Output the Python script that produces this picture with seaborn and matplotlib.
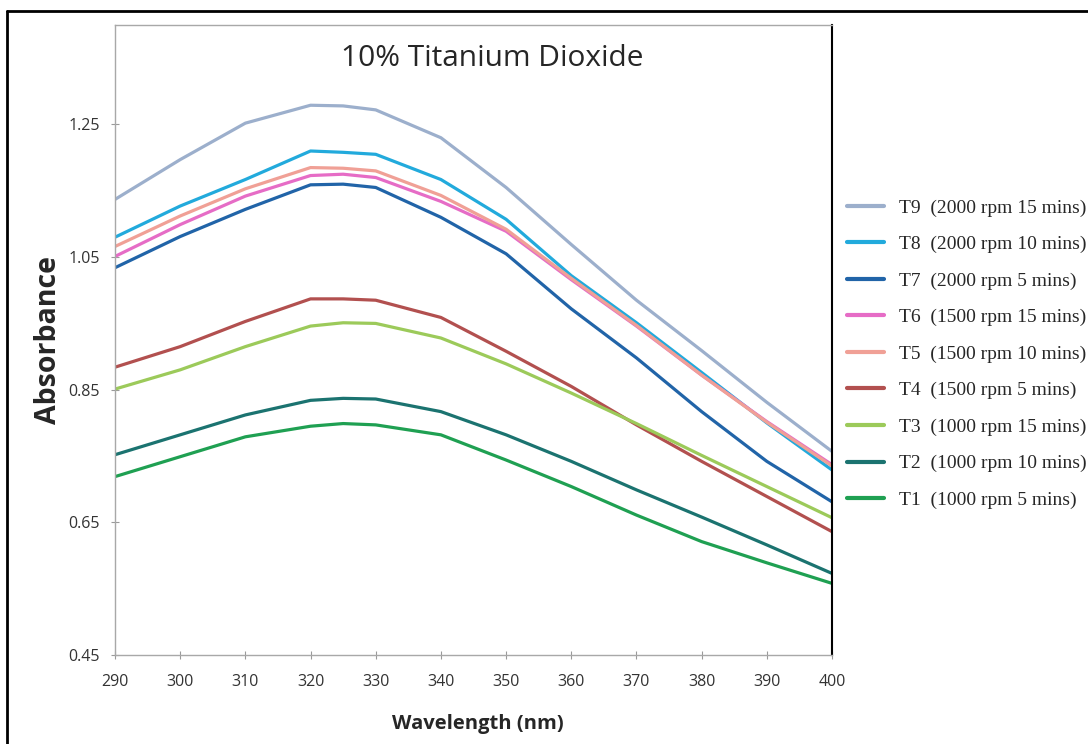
import numpy as np
import pandas as pd
import matplotlib
matplotlib.use("Agg")
import matplotlib.pyplot as plt
import seaborn as sns
from matplotlib.lines import Line2D

wavelength = [290, 300, 310, 320, 325, 330, 340, 350, 360, 370, 380, 390, 400]

T9 = [1.137, 1.197, 1.252, 1.279, 1.278, 1.272, 1.230, 1.155, 1.069, 0.985, 0.909, 0.831, 0.757]
T8 = [1.080, 1.127, 1.167, 1.210, 1.208, 1.205, 1.167, 1.107, 1.022, 0.951, 0.876, 0.800, 0.729]
T7 = [1.034, 1.081, 1.122, 1.159, 1.160, 1.155, 1.110, 1.055, 0.972, 0.898, 0.817, 0.742, 0.681]
T6 = [1.051, 1.099, 1.142, 1.173, 1.175, 1.170, 1.134, 1.089, 1.016, 0.946, 0.872, 0.802, 0.737]
T5 = [1.066, 1.112, 1.153, 1.185, 1.184, 1.180, 1.143, 1.092, 1.018, 0.947, 0.872, 0.801, 0.735]
T4 = [0.884, 0.915, 0.953, 0.987, 0.987, 0.985, 0.959, 0.908, 0.855, 0.797, 0.742, 0.689, 0.636]
T3 = [0.851, 0.880, 0.915, 0.946, 0.951, 0.950, 0.928, 0.889, 0.845, 0.799, 0.751, 0.704, 0.657]
T2 = [0.752, 0.782, 0.812, 0.834, 0.837, 0.836, 0.817, 0.782, 0.742, 0.699, 0.658, 0.616, 0.573]
T1 = [0.719, 0.749, 0.779, 0.795, 0.799, 0.797, 0.782, 0.744, 0.704, 0.661, 0.621, 0.589, 0.558]

series_names = ["T9  (2000 rpm 15 mins)", "T8  (2000 rpm 10 mins)", "T7  (2000 rpm 5 mins)",
                "T6  (1500 rpm 15 mins)", "T5  (1500 rpm 10 mins)", "T4  (1500 rpm 5 mins)",
                "T3  (1000 rpm 15 mins)", "T2  (1000 rpm 10 mins)", "T1  (1000 rpm 5 mins)"]
series_values = [T9, T8, T7, T6, T5, T4, T3, T2, T1]
colors = ["#9cafcc", "#22aadc", "#2164a8", "#e66cc6", "#f0a096", "#b2504f",
          "#9cca5a", "#1b7370", "#1fa052"]

y_ticks = [0.45, 0.65, 0.85, 1.05, 1.25]
x_ticks = list(range(290, 401, 10))

rows = []
for name, vals in zip(series_names, series_values):
    for w, v in zip(wavelength, vals):
        rows.append({"Wavelength": w, "Absorbance": v, "Sample": name})
df = pd.DataFrame(rows)

sns.set_style("white")
plt.rcParams["font.family"] = ["Open Sans", "DejaVu Sans"]

fig = plt.figure(figsize=(10.88, 7.44), dpi=100)
ax = fig.add_axes([115/1088, 1-655/744, (832-115)/1088, (655-25)/744])

palette = dict(zip(series_names, colors))
sns.lineplot(data=df, x="Wavelength", y="Absorbance", hue="Sample",
             hue_order=series_names, palette=palette, linewidth=2.3, ax=ax, legend=False)

ax.set_xlim(290, 400)
ax.set_ylim(0.45, 1.40)
ax.set_xticks(x_ticks)
ax.set_yticks(y_ticks)
ax.set_yticklabels([f"{t:.2f}" for t in y_ticks])
ax.tick_params(axis="both", direction="inout", length=6, width=0.8, color="#9a9a9a",
               labelsize=11.5, labelcolor="#333333", left=True, bottom=True)
ax.tick_params(axis="x", pad=11)
ax.tick_params(axis="y", pad=8)
for s in ["left", "bottom", "top"]:
    ax.spines[s].set_color("#a8a8a8")
    ax.spines[s].set_linewidth(1.0)
ax.spines["right"].set_color("black")
ax.spines["right"].set_linewidth(1.5)

ax.set_xlabel("Wavelength (nm)", fontsize=14.5, fontweight="bold")
ax.set_ylabel("Absorbance", fontsize=20.5, fontweight="bold")
ax.xaxis.set_label_coords((478-115)/717, (655-714)/630)
ax.yaxis.set_label_coords((63-115)/717, 0.5)

ax.text((492-115)/717, (655-58)/630, "10% Titanium Dioxide", transform=ax.transAxes,
        ha="center", va="center", fontsize=21.5)

handles = [Line2D([0], [0], color=c, lw=3) for c in colors]
leg = fig.legend(handles, series_names, loc="upper left",
                 bbox_to_anchor=(847/1088, 1-199/744), bbox_transform=fig.transFigure,
                 frameon=False, prop={"family": "Liberation Serif", "size": 14},
                 handlelength=1.9, handletextpad=0.75, labelspacing=0.97, borderpad=0,
                 borderaxespad=0)

fig.add_artist(Line2D([7/1088, 1.0], [1-11/744, 1-11/744], color="black", lw=2,
                      transform=fig.transFigure))
fig.add_artist(Line2D([7/1088, 7/1088], [0, 1-11/744], color="black", lw=2,
                      transform=fig.transFigure))

fig.savefig("out.png", dpi=100)
